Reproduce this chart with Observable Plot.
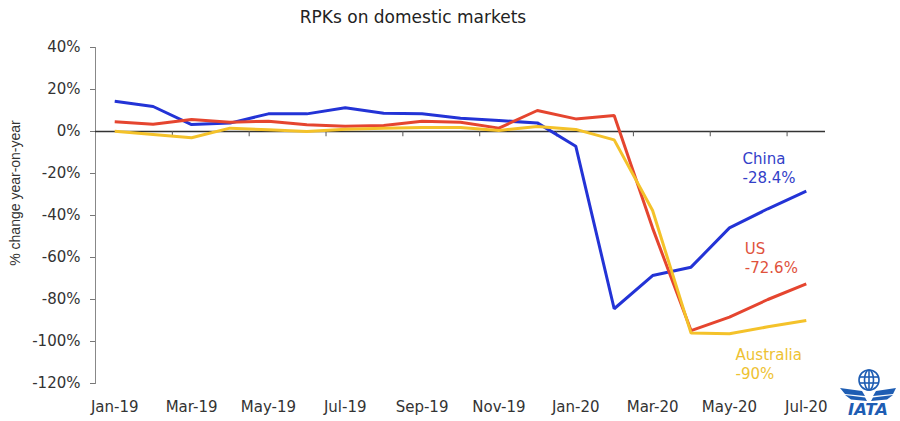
<!DOCTYPE html>
<html>
<head>
<meta charset="utf-8">
<script src="https://cdn.jsdelivr.net/npm/d3@7"></script>
<script src="https://cdn.jsdelivr.net/npm/@observablehq/plot@0.6"></script>
<style>
  html, body { margin: 0; padding: 0; background: #fff; }
  #wrap { position: relative; width: 900px; height: 421px; overflow: hidden; font-family: "DejaVu Sans", sans-serif; }
  #title { position: absolute; left: 0; width: 826px; top: 7px; text-align: center; font-size: 17px; color: #222; }
  #ylab { position: absolute; left: 15px; top: 193px; transform: translate(-50%, -50%) rotate(-90deg); white-space: nowrap; font-family: "Liberation Sans", Arial, sans-serif; font-size: 14px; color: #333; }
  #logo { position: absolute; left: 832px; top: 368px; }
</style>
</head>
<body>
<div id="wrap">
  <div id="chart"></div>
  <div id="title">RPKs on domestic markets</div>
  <div id="ylab">% change year-on-year</div>
  <svg id="logo" width="64" height="50" viewBox="0 0 64 50">
    <g fill="none" stroke="#1e5db3" stroke-width="1.6">
      <circle cx="37" cy="12" r="10"/>
      <ellipse cx="37" cy="12" rx="4.5" ry="10"/>
      <line x1="37" y1="2" x2="37" y2="22"/>
      <line x1="27.5" y1="9" x2="46.5" y2="9"/>
      <line x1="27.5" y1="15" x2="46.5" y2="15"/>
    </g>
    <g fill="#1e5db3">
      <path d="M8 20 L30 23 L33 28 L13 26 Z"/>
      <path d="M13 27 L33 29.5 L35 33 L19 31.5 Z"/>
      <path d="M64 20 L44 23 L41 28 L61 26 Z"/>
      <path d="M61 27 L41 29.5 L39 33 L55 31.5 Z"/>
    </g>
    <text x="16" y="47" font-family="DejaVu Sans, sans-serif" font-weight="bold" font-style="italic" font-size="15" fill="#1e5db3" textLength="40" lengthAdjust="spacingAndGlyphs">IATA</text>
  </svg>
</div>
<script>
const months = ["Jan-19","Feb-19","Mar-19","Apr-19","May-19","Jun-19","Jul-19","Aug-19","Sep-19","Oct-19","Nov-19","Dec-19","Jan-20","Feb-20","Mar-20","Apr-20","May-20","Jun-20","Jul-20"];
const china = [14.4, 11.9, 3.3, 4.0, 8.4, 8.4, 11.3, 8.7, 8.4, 6.3, 5.2, 4.1, -7.0, -84.4, -68.6, -64.6, -45.9, -36.8, -28.4];
const us = [4.6, 3.5, 5.7, 4.4, 4.9, 3.2, 2.5, 2.9, 4.9, 4.4, 1.6, 10.0, 6.0, 7.6, -46.0, -94.8, -88.4, -80.0, -72.6];
const australia = [0.1, -1.4, -3.0, 1.6, 0.8, 0.0, 1.1, 1.6, 1.9, 1.9, 0.5, 2.4, 1.0, -4.0, -37.6, -96.0, -96.3, -93.0, -90.0];
const seriesNames = ["China", "US", "Australia"];
const seriesColors = ["#2333d6", "#e5452f", "#f4c22a"];
const labelColors = ["#3340c8", "#e0523c", "#eec232"];
const labelTexts = ["China\n-28.4%", "US\n-72.6%", "Australia\n-90%"];
const labelX = [16.34, 16.40, 16.16];
const labelY = [-17.1, -59.8, -110.3];
const yTicks = [40, 20, 0, -20, -40, -60, -80, -100, -120];
const xTickIdx = d3.range(0, months.length, 2);
const boundaries = d3.range(1.5, months.length - 1, 2);

const seriesValues = [china, us, australia];
const data = seriesNames.flatMap((name, s) =>
  seriesValues[s].map((v, i) => ({series: name, i, month: months[i], value: v})));
const labels = seriesNames.map((name, s) => ({series: name, x: labelX[s], y: labelY[s], text: labelTexts[s], color: labelColors[s]}));

const chart = Plot.plot({
  width: 900,
  height: 421,
  marginLeft: 95,
  marginRight: 75,
  marginTop: 47,
  marginBottom: 38,
  style: {fontFamily: "DejaVu Sans, sans-serif", fontSize: "15px", color: "#333", background: "transparent"},
  x: {type: "linear", domain: [-0.5, months.length - 0.5]},
  y: {domain: [-120, 40]},
  color: {domain: seriesNames, range: seriesColors},
  marks: [
    Plot.axisY({ticks: yTicks, tickFormat: d => d + "%", tickSize: 5, tickPadding: 10, label: null, stroke: "#777", fontSize: 15, fill: "#333"}),
    Plot.axisX({ticks: xTickIdx, tickFormat: i => months[i], tickSize: 0, tickPadding: 18, label: null, fontSize: 15, fill: "#333"}),
    Plot.frame({anchor: "left", stroke: "#888", strokeWidth: 1}),
    Plot.ruleY([0], {stroke: "#333", strokeWidth: 1.3}),
    Plot.ruleX(boundaries, {x: d => d, y1: 0, y2: -2.5, stroke: "#555", strokeWidth: 1}),
    Plot.line(data, {x: "i", y: "value", z: "series", stroke: "series", strokeWidth: 3, strokeLinejoin: "miter", strokeLinecap: "butt"}),
    Plot.text(labels, {x: "x", y: "y", text: "text", fill: "color", textAnchor: "start", lineAnchor: "middle", lineHeight: 1.3, fontSize: 15})
  ]
});
document.getElementById("chart").appendChild(chart);
</script>
</body>
</html>
